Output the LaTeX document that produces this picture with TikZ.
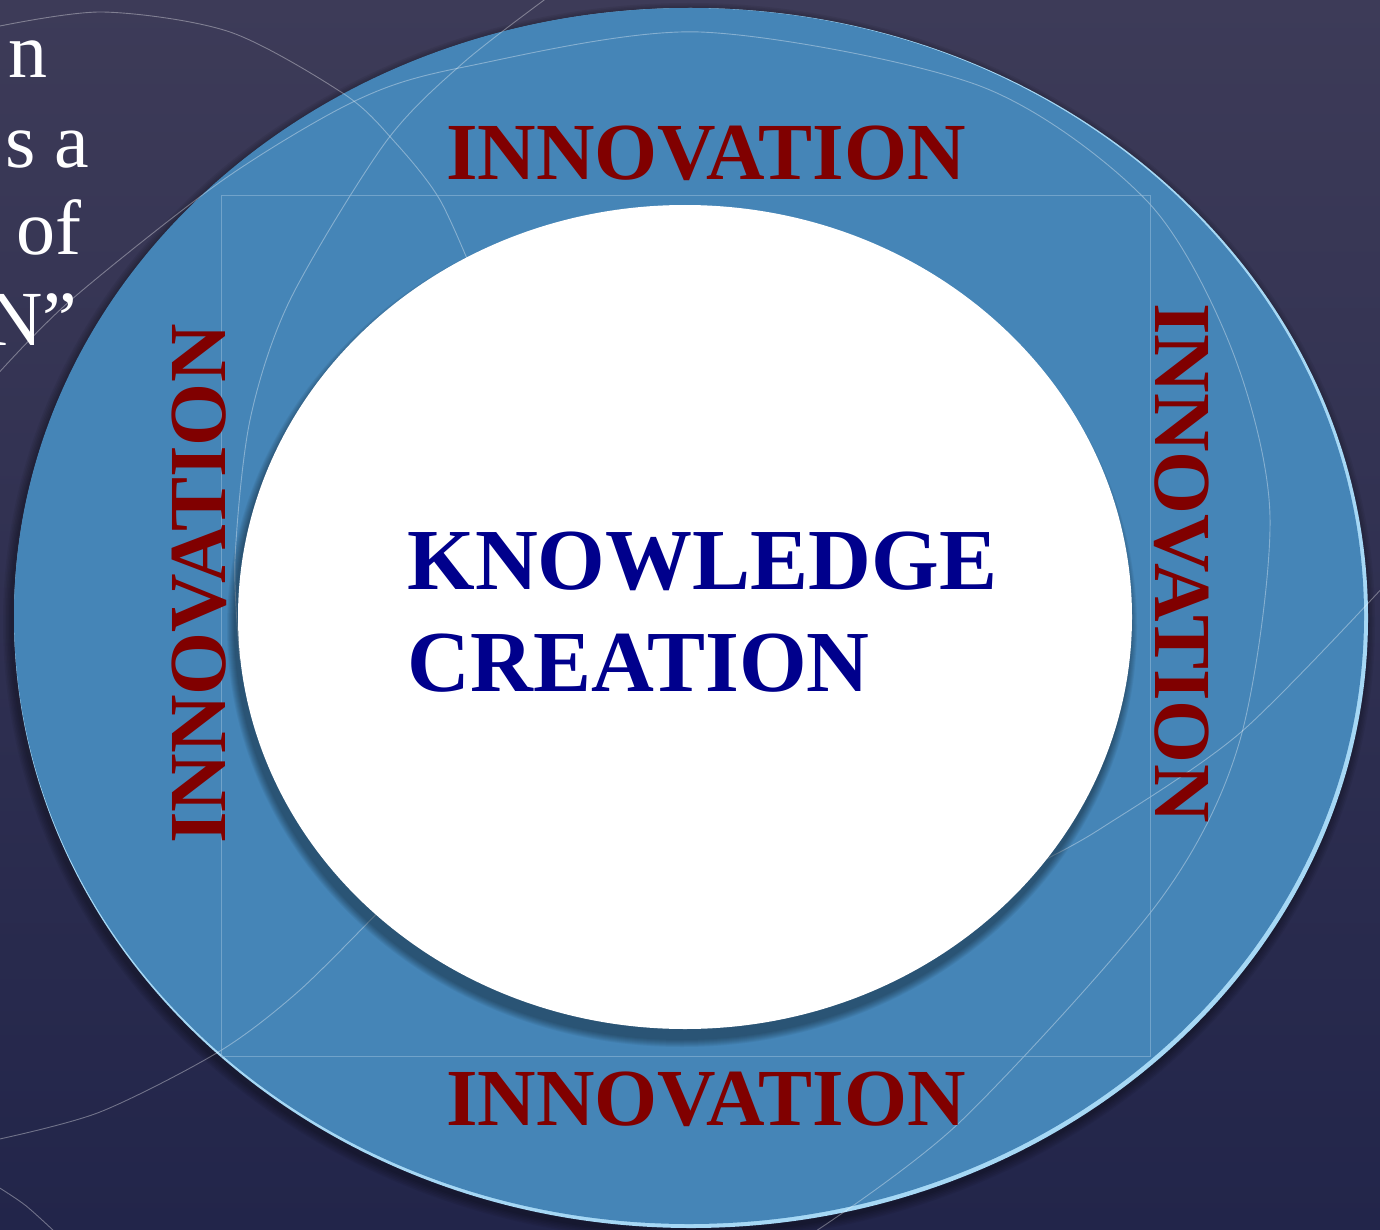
\documentclass[tikz,border=0pt]{standalone}
\usepackage{fontspec}
\setmainfont{Liberation Serif}
\usetikzlibrary{positioning}

\definecolor{bgtop}{HTML}{3D3B58}
\definecolor{bgbot}{HTML}{22254A}
\definecolor{ringblue}{HTML}{4585B7}
\definecolor{rimlight}{HTML}{A6D8F5}
\definecolor{innored}{HTML}{800000}
\definecolor{coreblue}{HTML}{00008C}
\definecolor{frameline}{HTML}{8FB8D8}

\tikzset{
  inno/.style={text=innored, font=\fontsize{40.5}{44}\selectfont\bfseries, inner sep=0pt},
  frag/.style={anchor=base east, text=white, font=\fontsize{39}{42}\selectfont, inner sep=0pt},
  faint/.style={white, opacity=0.35, line width=0.45pt},
}

\begin{document}
\begin{tikzpicture}[x=0.5pt, y=-0.5pt]
        \useasboundingbox (0,0) rectangle (1380,1230);
        \clip (0,0) rectangle (1380,1230);
        \shade[top color=bgtop, bottom color=bgbot] (0,0) rectangle (1380,1230);

        % cut-off text on the left
        \node[frag] (frag1) at (48,78) {n};
        \node[frag] (frag2) at (90,168) {s a};
        \node[frag] (frag3) at (82,255) {of};
        \node[frag] (frag4) at (78,345) {N”};

        % outer ring with its rim
        \foreach \k in {1,...,6}
            \fill[black, opacity=0.06] (689,622) ellipse [x radius=677+\k*1.5, y radius=610+\k*1.5];
        \fill[rimlight] (691,618) ellipse [x radius=677, y radius=610];
        \fill[ringblue] (689,616) ellipse [x radius=675, y radius=608];

        % thin decorative arcs
        \draw[faint] plot[smooth] coordinates {(555,-8) (463,63) (385,143) (290,300) (250,420) (235,560) (240,660)};
        \draw[faint] plot[smooth] coordinates {(-5,27) (103,12) (230,32) (344,94) (393,140) (440,200) (480,290)};
        \draw[faint] plot[smooth] coordinates {(-5,377) (71,300) (223,180) (357,100) (464,67) (700,32) (980,86)
            (1147,201) (1232,350) (1270,517) (1240,740) (1160,900) (960,1122) (810,1235)};
        \draw[faint] plot[smooth] coordinates {(385,905) (300,990) (220,1051) (100,1112) (-5,1140)};
        \draw[faint] plot[smooth] coordinates {(1385,585) (1240,733) (1100,829) (1040,862)};
        \draw[faint] plot[smooth] coordinates {(-5,1185) (25,1205) (55,1232)};

        % frame
        \draw[frameline, opacity=0.6, line width=0.5pt] (221,196) rectangle (1150,1056);

        % inner disc
        \foreach \k in {1,...,8}
            \fill[black, opacity=0.05] (682,627) ellipse [x radius=447+\k, y radius=412+\k];
        \fill[white] (685,617) ellipse [x radius=447, y radius=412];

        \node[inno, anchor=base] (innotop) at (706,180) {INNOVATION};
        \node[inno, anchor=base] (innobot) at (706,1125) {INNOVATION};
        \node[inno, anchor=base, rotate=90] (innoleft) at (225,584) {INNOVATION};
        \node[inno, anchor=base, rotate=-90] (innoright) at (1155,563) {INNOVATION};

        \node[anchor=north west, inner sep=0pt, align=left, text=coreblue,
              font=\fontsize{43.5}{51}\selectfont\bfseries] (core) at (407,531) {KNOWLEDGE\\CREATION};
    \end{tikzpicture}
\end{document}
